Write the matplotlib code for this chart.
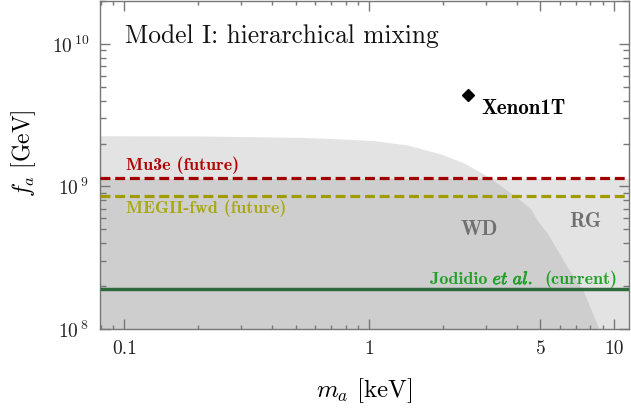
import numpy as np
import matplotlib
matplotlib.use("Agg")
import matplotlib.pyplot as plt
import matplotlib.ticker as mticker
import matplotlib.patheffects as pe

plt.rcParams['font.family'] = ['cmr10']
plt.rcParams['mathtext.fontset'] = 'cm'
plt.rcParams['axes.unicode_minus'] = False

# ---- data ----
x_range = [0.0795, 11.5]
y_range = [1e8, 2e10]

# White-dwarf bound (upper edge of excluded region)
m_wd = [0.0795, 0.204, 0.522, 0.761, 1.041, 1.426, 1.951, 2.431, 2.844, 3.126,
        3.658, 4.147, 4.556, 4.86, 5.34, 6.44, 7.43, 8.64, 8.8]
f_wd = [2.27e9, 2.26e9, 2.21e9, 2.156e9, 2.097e9, 1.957e9, 1.693e9, 1.465e9, 1.259e9, 1.143e9,
        9.38e8, 7.98e8, 6.98e8, 5.78e8, 4.69e8, 2.72e8, 1.90e8, 1.02e8, 8.5e7]

# Red-giant bound
f_rg = 1.13e9

# Experimental sensitivities
f_mu3e = 1.14e9
f_megii = 8.55e8
f_jodidio = 1.9e8

# Xenon1T point
m_xenon = 2.52
f_xenon = 4.4e9

x_ticks = [0.1, 1, 5, 10]
x_ticklabels = ['0.1', '1', '5', '10']
y_ticks = [1e8, 1e9, 1e10]
y_ticklabels = [r'$10^{\,8}$', r'$10^{\,9}$', r'$10^{\,10}$']

fig = plt.figure(figsize=(6.31, 4.11), dpi=100)
ax = fig.add_axes([100/631, 1 - 329/411, 529/631, 328/411])
ax.set_xscale('log')
ax.set_yscale('log')
ax.set_xlim(*x_range)
ax.set_ylim(*y_range)

shade = (0.53, 0.53, 0.53)
ax.fill_between(m_wd, 1e7, f_wd, color=shade, alpha=0.226, lw=0, zorder=1)
ax.fill_between(x_range, 1e7, [f_rg, f_rg], color=shade, alpha=0.226, lw=0, zorder=1)

ax.plot(x_range, [f_mu3e]*2, color='#a00000', lw=2.3, dashes=(3.1, 1.5), zorder=3)
ax.plot(x_range, [f_megii]*2, color='#a09c00', lw=2.3, dashes=(3.1, 1.5), zorder=3)
ax.plot(x_range, [f_jodidio]*2, color='#2d6a3c', lw=2.5, zorder=3, solid_capstyle='butt')

ax.plot([m_xenon], [f_xenon], marker='D', color='black', ms=6, ls='none', zorder=4)

def pix2data(px, py):
    return 10**((px - 369)/244.5), 10**(8 + (329 - py)/143)

bold = dict(family='cmb10', va='baseline', ha='left')
green = '#22a02a'
ax.text(*pix2data(126, 169), 'Mu3e (future)', color='#b00000', fontsize=13, **bold)
ax.text(*pix2data(126, 213), 'MEGII-fwd (future)', color='#aaa814', fontsize=13, **bold)
ax.text(*pix2data(430, 284), 'Jodidio', color=green, fontsize=13, **bold)
ax.text(*pix2data(492, 284), r'$\mathit{et\ al.}$', color=green, fontsize=13, va='baseline', ha='left',
        path_effects=[pe.withStroke(linewidth=0.6, foreground=green)])
ax.text(*pix2data(544, 284), '(current)', color=green, fontsize=13, **bold)
ax.text(*pix2data(481, 113), 'Xenon1T', color='black', fontsize=15, **bold)
ax.text(*pix2data(460, 235), 'WD', color='#707070', fontsize=15, **bold)
ax.text(*pix2data(569, 227), 'RG', color='#707070', fontsize=15, **bold)

ax.text(125/631, 1 - 43/411, 'Model I: hierarchical mixing', transform=fig.transFigure,
        fontsize=18.3, va='baseline', ha='left', color='#111111')

ax.set_xticks(x_ticks)
ax.set_xticklabels(x_ticklabels)
ax.xaxis.set_minor_locator(mticker.LogLocator(base=10, subs=np.arange(2, 10)))
ax.xaxis.set_minor_formatter(mticker.NullFormatter())
ax.set_yticks(y_ticks)
ax.set_yticklabels(y_ticklabels)
ax.yaxis.set_minor_locator(mticker.LogLocator(base=10, subs=np.arange(2, 10)))
ax.yaxis.set_minor_formatter(mticker.NullFormatter())

tc = '#777777'
ax.tick_params(which='both', direction='in', top=True, right=True, color=tc, width=1.0,
               labelsize=14, labelcolor='#222222')
ax.tick_params(which='major', length=7.5, pad=8)
ax.tick_params(axis='x', which='minor', length=3)
ax.tick_params(axis='y', which='minor', length=4.5)
for s in ax.spines.values():
    s.set_color(tc)
    s.set_linewidth(1.0)

ax.set_xlabel(r'$m_a\ [\mathrm{keV}]$', fontsize=18)
ax.set_ylabel(r'$f_a\ [\mathrm{GeV}]$', fontsize=17)
ax.xaxis.set_label_coords(0.5, -0.143)
ax.yaxis.set_label_coords(-0.117, 0.537)

fig.savefig('out.png', dpi=100)
